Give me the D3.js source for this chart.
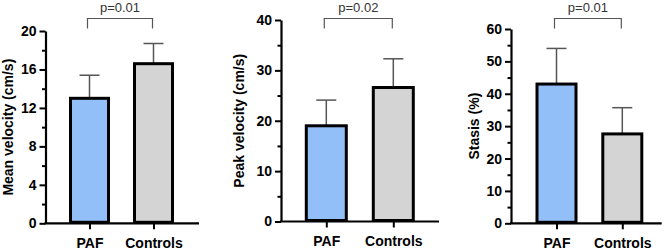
<!DOCTYPE html>
<html><head><meta charset="utf-8">
<script src="https://cdn.jsdelivr.net/npm/d3@7"></script>
<style>body{margin:0;background:#fff}svg{display:block}text{font-family:"Liberation Sans",Arial,sans-serif}</style>
</head><body><svg id="c" width="670" height="250"></svg>
<script>
const categories = ["PAF", "Controls"];
const meanVelocity = [13.0, 16.6];
const meanVelocitySD = [2.4, 2.1];
const peakVelocity = [19.0, 26.6];
const peakVelocitySD = [5.1, 5.7];
const stasis = [43.0, 27.6];
const stasisSD = [11.0, 8.1];
const pValues = ["p=0.01", "p=0.02", "p=0.01"];
const yTitles = ["Mean velocity (cm/s)", "Peak velocity (cm/s)", "Stasis (%)"];
const yMax = [20, 40, 60];
const majorTicks = [[0,4,8,12,16,20],[0,10,20,30,40],[0,10,20,30,40,50,60]];
const minorTicks = [[2,6,10,14,18],[5,15,25,35],[5,15,25,35,45,55]];
const colors = ["#93bff8", "#d4d4d4"];

const panels = [
  {vals: meanVelocity, sd: meanVelocitySD, ax: 45.5, xEnd: 199, top: 31, bot: 223.3, c: [89.5,153.5], bw: 41, lx: 8.5},
  {vals: peakVelocity, sd: peakVelocitySD, ax: 281, xEnd: 439, top: 20, bot: 221.5, c: [326.3,393.3], bw: 43, lx: 238.7},
  {vals: stasis, sd: stasisSD, ax: 511, xEnd: 661.7, top: 29, bot: 223.3, c: [556.5,622.3], bw: 42, lx: 473.7}
];
const svg = d3.select("#c");
panels.forEach((p, i) => {
  const g = svg.append("g");
  const y = d3.scaleLinear().domain([0, yMax[i]]).range([p.bot, p.top]);
  const x = d3.scalePoint().domain(categories).range(p.c);
  // minor ticks
  g.append("g").attr("transform", `translate(${p.ax},0)`)
    .call(d3.axisLeft(y).tickValues(minorTicks[i]).tickSize(3.5).tickFormat(""))
    .call(s => s.select(".domain").remove())
    .selectAll("line").attr("stroke", "#000").attr("stroke-width", 2);
  // major
  const ya = g.append("g").attr("transform", `translate(${p.ax},0)`)
    .call(d3.axisLeft(y).tickValues(majorTicks[i]).tickSize(6).tickSizeOuter(0).tickPadding(3));
  ya.select(".domain").attr("stroke", "#000").attr("stroke-width", 2.2);
  ya.selectAll("line").attr("stroke", "#000").attr("stroke-width", 2);
  ya.selectAll("text").attr("font-size", 14).attr("font-weight", "bold").attr("fill", "#000")
    .attr("font-family", "Liberation Sans, Arial, sans-serif");
  // x axis
  const xs = d3.scaleLinear().domain([0,1]).range([p.ax - 1, p.xEnd]);
  g.append("line").attr("x1", xs(0)).attr("x2", xs(1)).attr("y1", p.bot).attr("y2", p.bot)
    .attr("stroke", "#000").attr("stroke-width", 2.2);
  const xa = g.append("g").attr("transform", `translate(0,${p.bot})`)
    .call(d3.axisBottom(x).tickSize(6).tickPadding(9));
  xa.select(".domain").remove();
  xa.selectAll("line").attr("stroke", "#000").attr("stroke-width", 2);
  xa.selectAll("text").attr("font-size", 14).attr("font-weight", "bold").attr("fill", "#000")
    .attr("font-family", "Liberation Sans, Arial, sans-serif");
  // error bars
  categories.forEach((c, k) => {
    const cx = x(c);
    g.append("line").attr("x1", cx).attr("x2", cx).attr("y1", y(p.vals[k])).attr("y2", y(p.vals[k] + p.sd[k]))
      .attr("stroke", "#555").attr("stroke-width", 1.5);
    g.append("line").attr("x1", cx - 10).attr("x2", cx + 10).attr("y1", y(p.vals[k] + p.sd[k])).attr("y2", y(p.vals[k] + p.sd[k]))
      .attr("stroke", "#555").attr("stroke-width", 1.5);
  });
  // bars
  g.selectAll("rect.bar").data(categories).join("rect").attr("class", "bar")
    .attr("x", c => x(c) - p.bw / 2 + 1.5).attr("width", p.bw - 3)
    .attr("y", (c, k) => y(p.vals[k])).attr("height", (c, k) => y(0) - y(p.vals[k]) - 1)
    .attr("fill", (c, k) => colors[k]).attr("stroke", "#000").attr("stroke-width", 3);
  // bracket
  const bx0 = x(categories[0]) - 2, bx1 = x(categories[1]) - 1;
  g.append("path").attr("d", `M${bx0},28.5V18.5H${bx1}V28.5`).attr("fill", "none")
    .attr("stroke", "#555").attr("stroke-width", 1.2);
  g.append("text").attr("x", (bx0 + bx1) / 2).attr("y", 11.5).attr("text-anchor", "middle")
    .attr("font-size", 13).attr("fill", "#333").text(pValues[i]);
  // y title
  g.append("text").attr("transform", `translate(${p.lx},${(p.top + p.bot) / 2}) rotate(-90)`)
    .attr("dy", "0.35em").attr("text-anchor", "middle").attr("font-size", 14).attr("font-weight", "bold")
    .attr("fill", "#000").text(yTitles[i]);
});
</script></body></html>
